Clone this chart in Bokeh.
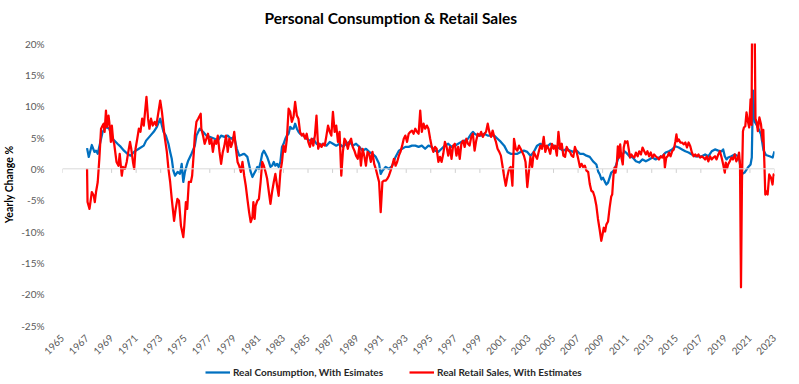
import math
from bokeh.plotting import figure
from bokeh.layouts import column
from bokeh.models import (ColumnDataSource, FixedTicker, Span, Legend, LegendItem, Range1d, Title)
from bokeh.embed import file_html
from bokeh.resources import INLINE

# ---------------- data ----------------
cons_year = [
1967.00,1967.14,1967.39,1967.60,1967.73,1967.87,1968.27,1968.54,1968.81,1969.08,1969.48,1969.75,
1970.01,1970.28,1970.55,1970.82,1971.22,1971.62,1971.81,1972.16,1972.43,1972.69,1972.96,1973.23,
1973.42,1973.63,1973.77,1973.90,1974.03,1974.17,1974.38,1974.57,1974.71,1974.84,1974.97,1975.11,
1975.24,1975.51,1975.78,1975.91,1976.18,1976.45,1976.72,1976.98,1977.39,1977.65,1977.92,1978.19,
1978.46,1978.73,1978.99,1979.20,1979.40,1979.65,1979.80,1980.06,1980.33,1980.47,1980.60,1980.73,
1980.87,1981.00,1981.14,1981.27,1981.40,1981.54,1981.67,1981.81,1981.94,1982.07,1982.21,1982.34,
1982.48,1982.61,1982.75,1982.88,1983.01,1983.15,1983.28,1983.42,1983.55,1983.68,1983.82,1983.95,
1984.09,1984.22,1984.35,1984.62,1984.89,1985.16,1985.43,1985.69,1985.96,1986.23,1986.50,1986.77,
1987.03,1987.30,1987.57,1987.84,1988.11,1988.38,1988.64,1988.91,1989.18,1989.45,1989.72,1989.98,
1990.25,1990.52,1990.79,1990.92,1991.06,1991.32,1991.59,1991.86,1992.13,1992.40,1992.67,1992.93,
1993.20,1993.47,1993.74,1994.01,1994.27,1994.54,1994.81,1995.08,1995.35,1995.62,1995.88,1996.15,
1996.42,1996.69,1996.96,1997.23,1997.49,1997.76,1998.03,1998.30,1998.43,1998.57,1998.83,1999.10,
1999.37,1999.64,1999.91,2000.17,2000.44,2000.71,2000.98,2001.25,2001.51,2001.78,2002.05,2002.32,
2002.59,2002.86,2003.12,2003.39,2003.66,2003.93,2004.20,2004.46,2004.73,2005.00,2005.27,2005.54,
2005.80,2006.07,2006.34,2006.61,2006.88,2007.15,2007.41,2007.68,2007.95,2008.22,2008.49,2008.63,
2008.77,2008.90,2009.03,2009.17,2009.30,2009.44,2009.57,2009.70,2009.84,2009.97,2010.11,2010.24,
2010.37,2010.64,2010.78,2010.91,2011.18,2011.45,2011.71,2011.98,2012.25,2012.52,2012.79,2013.06,
2013.32,2013.59,2013.86,2014.13,2014.40,2014.66,2014.93,2015.20,2015.47,2015.74,2016.00,2016.27,
2016.54,2016.81,2017.08,2017.35,2017.61,2017.88,2018.15,2018.42,2018.69,2018.82,2018.95,2019.09,
2019.22,2019.49,2019.76,2020.03,2020.16,2020.29,2020.56,2020.83,2021.05,2021.15,2021.25,2021.40,
2021.60,2021.90,2022.10,2022.30,2022.60,2022.85,2023.00]
cons_pct = [
3.3,1.9,3.8,2.7,2.9,2.4,5.9,6.7,6.4,4.8,4.0,3.5,
2.9,2.4,2.1,2.7,3.2,3.7,4.5,5.3,5.9,6.7,8.0,5.9,
5.3,4.0,2.7,1.6,-0.3,-1.1,-0.5,-0.8,0.8,-2.1,-0.5,0.5,
1.3,2.4,3.7,5.3,6.4,5.9,5.3,5.1,4.8,4.5,5.3,5.1,
5.3,4.8,5.1,3.2,2.1,2.3,2.4,1.9,-0.5,-1.3,-0.8,-0.3,
0.3,0.0,1.1,2.4,2.9,2.4,1.9,1.1,0.3,0.5,1.1,0.5,
0.8,0.3,1.1,3.5,4.0,4.8,5.3,5.6,6.7,6.4,6.4,7.2,
6.4,5.9,5.6,5.3,4.8,4.5,4.8,4.0,3.7,4.0,3.7,4.3,
4.0,3.7,4.0,3.5,4.0,4.3,3.7,4.0,3.5,2.9,3.2,2.7,
2.4,1.9,0.8,-0.8,-0.3,0.3,0.0,0.5,1.9,2.9,3.2,3.5,
3.5,3.7,3.7,3.5,3.7,3.2,3.7,3.5,2.9,2.7,3.2,3.7,
4.0,3.5,3.7,4.0,4.3,4.5,4.8,5.6,5.9,5.6,5.3,5.3,
5.6,5.3,5.3,5.3,4.8,4.3,3.7,2.7,2.4,2.4,2.4,2.7,
2.9,2.7,2.1,2.7,3.7,4.0,3.7,3.5,4.0,3.7,3.5,3.2,
2.9,3.2,2.9,2.7,2.9,2.4,2.4,2.1,1.9,1.2,0.7,-0.4,
-0.9,-1.7,-1.4,-2.0,-2.5,-2.2,-1.4,-0.6,-0.4,-0.1,0.7,1.5,
2.0,2.3,2.8,2.6,2.0,1.8,1.2,1.0,1.5,1.2,1.5,1.8,
1.5,1.8,2.0,2.6,2.8,3.1,3.6,3.4,3.1,2.8,2.6,2.3,
2.0,2.0,2.0,2.3,2.0,2.8,3.1,2.9,2.8,3.1,2.0,1.5,
1.8,2.0,2.3,2.0,1.2,-0.9,-0.6,0.2,0.7,1.8,12.5,7.5,
6.8,5.5,3.0,2.2,2.0,1.8,2.8]

retail_year = [
1967.00,1967.04,1967.20,1967.39,1967.55,1967.63,1967.73,1967.87,1968.00,1968.14,1968.27,1968.35,
1968.43,1968.54,1968.62,1968.75,1968.81,1968.94,1969.02,1969.13,1969.21,1969.40,1969.56,1969.66,
1969.83,1969.93,1970.09,1970.23,1970.36,1970.50,1970.60,1970.74,1970.84,1970.95,1971.09,1971.22,
1971.35,1971.49,1971.62,1971.84,1971.97,1972.08,1972.21,1972.35,1972.51,1972.64,1972.77,1972.96,
1973.10,1973.31,1973.50,1973.63,1973.77,1973.90,1974.09,1974.22,1974.36,1974.49,1974.65,1974.84,
1974.92,1975.05,1975.16,1975.29,1975.46,1975.56,1975.70,1975.78,1975.91,1976.05,1976.26,1976.31,
1976.45,1976.58,1976.72,1976.85,1976.98,1977.12,1977.25,1977.39,1977.52,1977.65,1977.79,1977.92,
1978.06,1978.19,1978.32,1978.46,1978.59,1978.73,1978.86,1978.99,1979.13,1979.26,1979.39,1979.53,
1979.66,1979.80,1979.93,1980.06,1980.20,1980.33,1980.47,1980.55,1980.65,1980.73,1980.87,1981.00,
1981.14,1981.27,1981.40,1981.54,1981.67,1981.81,1981.94,1982.07,1982.21,1982.34,1982.48,1982.61,
1982.75,1982.88,1983.01,1983.15,1983.28,1983.42,1983.55,1983.68,1983.82,1983.95,1984.09,1984.22,
1984.35,1984.49,1984.62,1984.76,1984.89,1985.02,1985.16,1985.29,1985.43,1985.56,1985.69,1985.83,
1985.96,1986.10,1986.23,1986.36,1986.50,1986.63,1986.77,1986.90,1987.03,1987.17,1987.30,1987.44,
1987.57,1987.71,1987.84,1987.97,1988.11,1988.24,1988.38,1988.51,1988.64,1988.78,1988.91,1989.05,
1989.18,1989.31,1989.45,1989.58,1989.72,1989.85,1989.98,1990.12,1990.25,1990.39,1990.52,1990.66,
1990.79,1990.92,1991.06,1991.19,1991.32,1991.46,1991.59,1991.73,1991.86,1992.00,1992.13,1992.26,
1992.40,1992.53,1992.67,1992.80,1992.93,1993.07,1993.20,1993.34,1993.47,1993.60,1993.74,1993.87,
1994.01,1994.14,1994.27,1994.41,1994.54,1994.68,1994.81,1994.95,1995.08,1995.21,1995.35,1995.48,
1995.62,1995.75,1995.88,1996.02,1996.15,1996.29,1996.42,1996.56,1996.69,1996.82,1996.96,1997.09,
1997.23,1997.36,1997.49,1997.63,1997.76,1997.90,1998.03,1998.16,1998.30,1998.43,1998.57,1998.70,
1998.83,1998.97,1999.10,1999.24,1999.37,1999.50,1999.64,1999.77,1999.91,2000.04,2000.17,2000.31,
2000.44,2000.58,2000.71,2000.84,2000.98,2001.11,2001.25,2001.38,2001.51,2001.65,2001.78,2001.92,
2002.05,2002.19,2002.32,2002.45,2002.59,2002.72,2002.86,2002.99,2003.12,2003.26,2003.39,2003.53,
2003.66,2003.79,2003.93,2004.06,2004.20,2004.33,2004.46,2004.60,2004.73,2004.87,2005.00,2005.13,
2005.27,2005.40,2005.54,2005.67,2005.80,2005.94,2006.07,2006.21,2006.34,2006.47,2006.61,2006.74,
2006.88,2007.01,2007.15,2007.28,2007.41,2007.55,2007.68,2007.82,2007.95,2008.08,2008.22,2008.35,
2008.49,2008.62,2008.75,2008.89,2008.98,2009.09,2009.20,2009.30,2009.44,2009.57,2009.70,2009.78,
2009.89,2009.97,2010.05,2010.16,2010.24,2010.32,2010.43,2010.51,2010.64,2010.72,2010.83,2010.91,
2011.02,2011.13,2011.23,2011.34,2011.45,2011.58,2011.71,2011.85,2011.98,2012.12,2012.25,2012.39,
2012.52,2012.65,2012.79,2012.92,2013.06,2013.19,2013.32,2013.46,2013.59,2013.73,2013.86,2014.00,
2014.07,2014.18,2014.29,2014.40,2014.53,2014.66,2014.80,2014.93,2015.01,2015.09,2015.20,2015.33,
2015.47,2015.60,2015.74,2015.87,2016.00,2016.14,2016.27,2016.41,2016.54,2016.68,2016.81,2016.94,
2017.08,2017.21,2017.35,2017.48,2017.61,2017.75,2017.88,2018.02,2018.15,2018.28,2018.42,2018.55,
2018.69,2018.82,2018.95,2019.03,2019.14,2019.22,2019.36,2019.49,2019.62,2019.76,2019.89,2020.03,
2020.11,2020.19,2020.27,2020.35,2020.43,2020.51,2020.62,2020.72,2020.83,2020.94,2021.05,2021.13,
2021.22,2021.32,2021.45,2021.55,2021.64,2021.77,2021.90,2022.04,2022.09,2022.17,2022.25,2022.36,
2022.44,2022.57,2022.71,2022.84,2022.93,2023.00]
retail_pct = [
0.0,-5.3,-6.4,-3.7,-4.3,-5.3,-3.7,-2.1,1.6,6.4,6.9,7.2,
5.9,9.3,6.7,8.5,7.5,4.3,6.9,4.5,4.0,1.1,0.5,2.4,
-1.1,0.3,0.0,1.1,2.7,4.3,3.2,1.1,0.0,3.2,4.8,6.4,
5.9,8.0,6.9,11.5,8.0,6.4,8.0,6.9,7.5,6.9,8.5,10.9,
9.1,5.3,2.7,0.0,-2.1,-4.8,-8.3,-6.4,-4.8,-5.1,-9.1,-10.9,
-9.1,-5.3,-6.4,-2.1,-2.1,-1.1,2.7,5.3,7.5,8.0,8.8,6.4,
5.3,4.0,4.8,5.6,4.0,4.8,2.7,4.5,4.0,5.3,2.7,0.8,
2.7,3.7,5.3,2.7,4.8,3.5,4.3,5.9,3.2,1.1,0.5,-0.5,
1.1,-1.1,-2.7,-4.8,-6.9,-8.5,-7.7,-5.3,-8.0,-5.9,-5.1,-4.8,
-2.1,1.1,0.5,-0.5,-1.6,-3.7,-5.6,-3.7,-2.1,-0.8,-2.7,-4.3,
-0.5,1.1,3.7,2.7,4.8,9.6,9.1,7.5,8.3,10.7,8.5,8.0,
5.9,5.3,5.6,4.8,5.6,4.3,3.5,4.8,3.7,5.3,8.5,3.2,
4.0,3.5,4.0,3.7,5.3,6.9,5.9,5.3,9.1,5.9,6.9,4.3,
5.9,-1.1,2.7,4.8,4.3,3.2,4.3,4.8,3.5,2.9,2.1,1.6,
3.5,0.5,3.2,2.1,0.5,2.7,2.4,1.1,2.7,0.8,0.0,-1.1,
-2.1,-6.9,-2.1,-1.9,-1.9,-1.6,-1.1,-0.3,0.5,1.6,0.5,1.1,
2.1,2.7,3.7,4.8,5.3,4.3,5.6,5.9,6.1,5.6,6.4,5.9,
5.6,9.3,5.9,7.2,6.4,6.9,6.4,4.8,3.5,2.7,3.5,3.2,
1.1,1.9,1.1,2.4,4.3,3.5,2.1,3.5,1.6,3.7,4.0,2.1,
3.5,1.6,4.0,4.5,3.5,4.8,4.0,3.7,5.1,5.6,2.9,4.5,
5.6,5.3,5.9,5.1,5.6,5.9,7.2,5.9,5.1,6.1,5.1,4.3,
3.2,2.7,2.1,0.5,-1.3,-2.7,-1.1,0.0,0.3,-2.7,4.8,3.2,
2.9,3.7,3.2,2.7,2.1,1.1,-2.9,-0.5,1.9,0.3,2.7,2.1,
1.6,2.7,3.7,3.2,5.1,2.7,3.7,3.2,2.4,4.0,3.2,3.7,
2.1,5.9,3.2,4.0,2.1,1.9,3.5,2.9,2.7,2.1,1.9,3.5,
2.7,1.6,0.3,0.8,0.3,0.5,-0.3,-0.5,-2.4,-3.5,-3.7,-4.5,
-5.9,-8.0,-9.6,-11.5,-10.6,-9.4,-10.0,-8.9,-8.4,-6.2,-4.4,-4.1,
-0.9,0.2,-0.6,1.0,3.6,1.8,3.9,2.0,0.7,3.4,4.4,4.2,
4.4,3.1,1.8,2.3,2.0,1.8,2.6,2.0,2.8,2.3,3.4,2.8,
2.3,2.8,2.0,2.6,1.8,2.3,2.0,1.8,1.5,2.0,1.8,2.3,
0.2,1.8,2.0,2.6,2.0,2.8,3.1,4.4,5.5,4.4,4.7,4.2,
4.2,3.9,4.2,3.4,4.2,3.6,2.6,2.0,2.3,2.0,2.3,1.8,
2.0,1.8,1.5,2.0,1.2,2.0,1.5,1.8,2.0,1.5,2.3,2.8,
1.8,0.7,-0.6,1.0,0.1,0.7,1.2,1.8,1.5,2.3,1.2,1.8,
2.6,0.7,-18.9,-2.0,6.0,6.6,6.8,9.0,7.6,6.6,11.1,7.0,
40.0,38.0,8.0,7.4,6.0,8.2,7.1,4.4,6.2,1.2,-4.1,-3.6,
-4.1,-0.9,-1.4,-2.5,-0.9,-1.2]

x_tick_years = list(range(1965, 2024, 2))
x_tick_labels = [str(y) for y in x_tick_years]
y_ticks = [-25, -20, -15, -10, -5, 0, 5, 10, 15, 20]
y_tick_labels = ["-25%", "-20%", "-15%", "-10%", "-5%", "0%", "5%", "10%", "15%", "20%"]

series_names = ["Real Consumption, With Esimates", "Real Retail Sales, With Estimates"]
series_colors = ["#0070C0", "#FF0000"]
title_text = "Personal Consumption & Retail Sales"
y_label = "Yearly Change %"

# ---------------- main chart ----------------
FONT = "Lato"
GRAY = "#595959"

p = figure(width=799, height=362, output_backend="svg", toolbar_location=None, title=None,
           x_range=Range1d(1965, 2023), y_range=Range1d(-25, 20),
           min_border_left=53, min_border_right=25, min_border_top=43, min_border_bottom=37)

# spacer between frame and title, then the title itself (outermost)
p.add_layout(Title(text=" ", text_font_size="9px", standoff=0), "above")
main_title = Title(text=title_text, text_font=FONT, text_font_size="15.5px",
                   text_font_style="bold", text_color="#000000", align="left", offset=202)
p.add_layout(main_title, "above")

p.outline_line_color = None
p.xgrid.grid_line_color = None
p.ygrid.grid_line_color = None
p.background_fill_color = "white"
p.border_fill_color = "white"

xa = p.xaxis[0]
xa.ticker = FixedTicker(ticks=x_tick_years)
xa.major_label_overrides = {y: l for y, l in zip(x_tick_years, x_tick_labels)}
xa.major_label_orientation = math.pi / 4
xa.axis_line_color = None
xa.major_tick_line_color = None
xa.minor_tick_line_color = None
xa.major_label_text_font = FONT
xa.major_label_text_font_size = "10px"
xa.major_label_text_color = GRAY
xa.major_label_standoff = 5

ya = p.yaxis[0]
ya.ticker = FixedTicker(ticks=y_ticks)
ya.major_label_overrides = {v: l for v, l in zip(y_ticks, y_tick_labels)}
ya.axis_line_color = None
ya.major_tick_line_color = None
ya.minor_tick_line_color = None
ya.major_label_text_font = FONT
ya.major_label_text_font_size = "10px"
ya.major_label_text_color = GRAY
ya.major_label_standoff = 12
ya.axis_label = y_label
ya.axis_label_text_font = FONT
ya.axis_label_text_font_size = "10.5px"
ya.axis_label_text_font_style = "bold"
ya.axis_label_text_color = "#000000"
ya.axis_label_standoff = 3

p.add_layout(Span(location=0, dimension="width", line_color="#D9D9D9", line_width=1))
tick_src = ColumnDataSource(dict(x=x_tick_years, y0=[0] * len(x_tick_years),
                                 y1=[-0.65] * len(x_tick_years)))
p.segment(x0="x", y0="y0", x1="x", y1="y1", source=tick_src, line_color="#D0D0D0", line_width=1)

cons_src = ColumnDataSource(dict(x=cons_year, y=cons_pct))
retail_src = ColumnDataSource(dict(x=retail_year, y=retail_pct))
p.line("x", "y", source=cons_src, line_color=series_colors[0], line_width=2.25, line_join="round")
p.line("x", "y", source=retail_src, line_color=series_colors[1], line_width=2.25, line_join="round")

# ---------------- legend strip (same series; data lie outside this strip's range) ----------------
pl = figure(width=799, height=22, output_backend="svg", toolbar_location=None, title=None,
            x_axis_type=None, y_axis_type=None, x_range=Range1d(0, 1), y_range=Range1d(0, 1),
            min_border=0, min_border_left=0, min_border_right=0, min_border_top=0,
            min_border_bottom=0)
pl.outline_line_color = None
pl.xgrid.visible = False
pl.ygrid.visible = False
lr1 = pl.line("x", "y", source=cons_src, line_color=series_colors[0], line_width=2.25)
lr2 = pl.line("x", "y", source=retail_src, line_color=series_colors[1], line_width=2.25)
legend = Legend(items=[LegendItem(label=series_names[0], renderers=[lr1]),
                       LegendItem(label=series_names[1], renderers=[lr2])],
                orientation="horizontal", location=(143, 6))
legend.label_text_font = FONT
legend.label_text_font_size = "10px"
legend.label_text_font_style = "bold"
legend.label_text_color = "#262626"
legend.glyph_width = 25
legend.glyph_height = 12
legend.label_standoff = 3
legend.spacing = 26
legend.padding = 0
legend.margin = 0
legend.border_line_color = None
legend.background_fill_alpha = 0
pl.add_layout(legend, "center")

layout = column(p, pl, spacing=0)
open("out.html", "w").write(file_html(layout, INLINE))
